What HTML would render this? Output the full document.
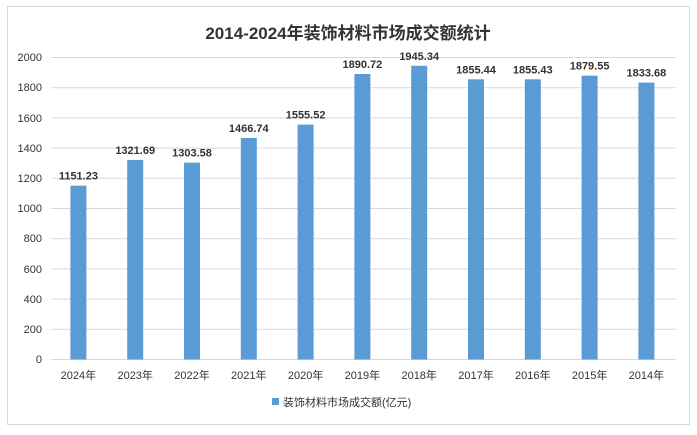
<!DOCTYPE html>
<html><head><meta charset="utf-8"><style>
body{margin:0;background:#fff;}
svg text{font-family:"Liberation Sans","Noto Sans CJK SC",sans-serif;}
</style></head><body>
<svg width="697" height="430" viewBox="0 0 697 430" xmlns="http://www.w3.org/2000/svg">
<rect x="0" y="0" width="697" height="430" fill="#fff"/>
<rect x="7.5" y="6.5" width="682" height="418" fill="#fff" stroke="#d9d9d9" stroke-width="1"/>
<text x="348" y="39" text-anchor="middle" font-size="17" font-weight="bold" fill="#333">2014-2024年装饰材料市场成交额统计</text>
<g stroke="#d9d9d9" stroke-width="1">
<line x1="51" x2="676" y1="57.5" y2="57.5"/><line x1="51" x2="676" y1="87.7" y2="87.7"/>
<line x1="51" x2="676" y1="117.9" y2="117.9"/><line x1="51" x2="676" y1="148.1" y2="148.1"/>
<line x1="51" x2="676" y1="178.3" y2="178.3"/><line x1="51" x2="676" y1="208.5" y2="208.5"/>
<line x1="51" x2="676" y1="238.7" y2="238.7"/><line x1="51" x2="676" y1="268.9" y2="268.9"/>
<line x1="51" x2="676" y1="299.1" y2="299.1"/><line x1="51" x2="676" y1="329.3" y2="329.3"/>
<line x1="51" x2="676" y1="359.5" y2="359.5"/>
</g>
<g font-size="11" fill="#333" text-anchor="end">
<text x="42" y="61">2000</text><text x="42" y="91">1800</text><text x="42" y="122">1600</text>
<text x="42" y="152">1400</text><text x="42" y="182">1200</text><text x="42" y="212">1000</text>
<text x="42" y="242">800</text><text x="42" y="273">600</text><text x="42" y="303">400</text>
<text x="42" y="333">200</text><text x="42" y="363">0</text>
</g>
<g fill="#5b9bd5" id="bars"></g>
<g id="lbl"></g>
<rect x="272" y="398" width="7" height="7" fill="#5b9bd5"/>
<text x="283" y="406" font-size="11" fill="#333">装饰材料市场成交额(亿元)</text>
<script>
(function(){
var v=[1151.23,1321.69,1303.58,1466.74,1555.52,1890.72,1945.34,1855.44,1855.43,1879.55,1833.68];
var yr=['2024年','2023年','2022年','2021年','2020年','2019年','2018年','2017年','2016年','2015年','2014年'];
var b=document.getElementById('bars'),l=document.getElementById('lbl'),ns='http://www.w3.org/2000/svg';
for(var i=0;i<11;i++){var cx=78.4+i*56.8,h=v[i]*0.151,ty=359.5-h;
var r=document.createElementNS(ns,'rect');r.setAttribute('x',cx-8);r.setAttribute('y',ty);r.setAttribute('width',16);r.setAttribute('height',h);b.appendChild(r);
var t=document.createElementNS(ns,'text');t.setAttribute('x',cx);t.setAttribute('y',ty-6);t.setAttribute('text-anchor','middle');t.setAttribute('font-size','11');t.setAttribute('font-weight','bold');t.setAttribute('fill','#333');t.textContent=v[i].toFixed(2);l.appendChild(t);
var u=document.createElementNS(ns,'text');u.setAttribute('x',cx);u.setAttribute('y',379);u.setAttribute('text-anchor','middle');u.setAttribute('font-size','11');u.setAttribute('fill','#333');u.textContent=yr[i];l.appendChild(u);}
})();
</script>
</svg>
</body></html>
